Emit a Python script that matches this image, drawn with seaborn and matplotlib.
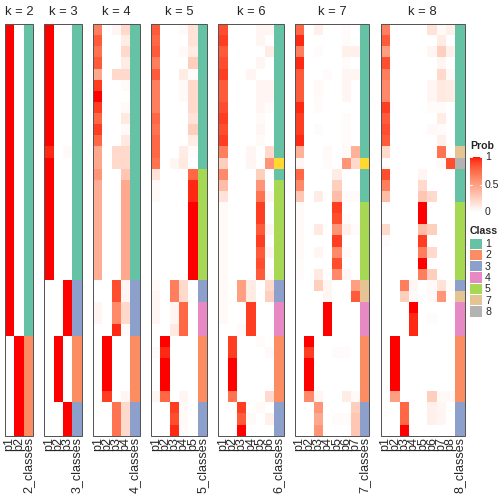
import numpy as np
import pandas as pd
import seaborn as sns
import matplotlib
matplotlib.use("Agg")
import matplotlib.pyplot as plt
from matplotlib.colors import ListedColormap, LinearSegmentedColormap
from matplotlib.patches import Rectangle

# ---------------- data ----------------
k_values = [2, 3, 4, 5, 6, 7, 8]

classes_k2 = [1] * 28 + [2] * 9
classes_k3 = [1] * 23 + [3] * 5 + [2] * 6 + [3] * 3
classes_k4 = [1] * 23 + [3] * 5 + [2] * 6 + [3] * 3
classes_k5 = [1] * 13 + [5] * 10 + [3] * 2 + [4] * 3 + [2] * 6 + [3] * 3
classes_k6 = [1] * 12 + [6] + [1] + [5] * 9 + [3] * 2 + [4] * 3 + [2] * 6 + [3] * 3
classes_k7 = [1] * 12 + [6] + [1] * 3 + [5] * 7 + [7] * 2 + [4] * 3 + [2] * 6 + [3] * 3
classes_k8 = [1] * 11 + [7] + [8] + [1] * 3 + [5] * 7 + [3] + [7] + [4] * 3 + [2] * 6 + [3] * 3

prob_k2 = [[1, 0]] * 28 + [[0, 1]] * 9

prob_k3 = ([[1, 0, 0]] * 11 + [[0.95, 0, 0.03]] + [[1, 0, 0]] * 11 +
           [[0, 0, 1]] * 5 + [[0, 1, 0]] * 6 + [[0, 0, 1]] * 3)

prob_k4 = [
    [0.65, 0, 0.05, 0.2], [0.8, 0, 0, 0.1], [0.7, 0, 0, 0.2], [0.8, 0, 0, 0.1],
    [0.45, 0, 0.2, 0.2], [0.9, 0, 0, 0.03], [1.0, 0, 0, 0], [0.9, 0, 0, 0.03],
    [0.75, 0, 0, 0.12], [0.9, 0, 0, 0.03], [0.75, 0, 0, 0.12], [0.45, 0, 0.2, 0.2],
    [0.45, 0, 0.2, 0.2], [0.55, 0, 0, 0.3],
    [0.42, 0, 0, 0.45], [0.42, 0, 0, 0.45], [0.42, 0, 0, 0.45], [0.42, 0, 0, 0.45],
    [0.42, 0, 0, 0.45], [0.42, 0, 0, 0.45], [0.42, 0, 0, 0.45], [0.42, 0, 0, 0.45],
    [0.42, 0, 0, 0.45],
    [0, 0, 0.85, 0.05], [0, 0, 0.85, 0.05], [0.05, 0, 0.6, 0.2], [0.05, 0, 0.6, 0.2],
    [0, 0, 0.95, 0.02],
    [0, 1, 0, 0], [0, 1, 0, 0], [0, 1, 0, 0], [0, 1, 0, 0], [0, 1, 0, 0],
    [0, 0.9, 0, 0.05],
    [0, 0, 0.7, 0.2], [0, 0, 0.7, 0.2], [0, 0, 0.7, 0.2],
]

prob_k5 = [
    [0.8, 0, 0, 0.03, 0.15], [0.75, 0, 0, 0, 0.15], [0.8, 0, 0, 0.03, 0.1],
    [0.65, 0, 0, 0, 0.25], [0.8, 0, 0, 0.1, 0.02], [0.65, 0, 0, 0.03, 0.2],
    [0.65, 0, 0, 0.03, 0.2], [0.65, 0, 0, 0, 0.2], [0.75, 0, 0, 0, 0.15],
    [0.7, 0, 0, 0, 0.25], [0.75, 0, 0, 0, 0.1], [0.75, 0, 0, 0.1, 0.02],
    [0.7, 0, 0.05, 0.12, 0],
    [0.15, 0, 0, 0, 0.75], [0.03, 0, 0, 0, 0.95], [0.03, 0, 0, 0, 0.95],
    [0, 0, 0, 0, 1], [0, 0, 0, 0, 1], [0, 0, 0, 0, 1], [0, 0, 0, 0, 1],
    [0, 0, 0, 0, 1], [0, 0, 0, 0, 1], [0, 0, 0, 0, 1],
    [0.03, 0, 0.65, 0.2, 0], [0.05, 0, 0.65, 0.2, 0],
    [0.05, 0, 0.05, 0.75, 0], [0.05, 0, 0.05, 0.75, 0], [0, 0, 0.12, 0.75, 0],
    [0, 1, 0, 0, 0], [0.02, 0.95, 0, 0, 0], [0, 1, 0, 0, 0], [0, 1, 0, 0, 0],
    [0, 1, 0, 0, 0], [0.05, 0.75, 0, 0.05, 0],
    [0, 0, 0.9, 0.03, 0], [0, 0, 0.85, 0.03, 0], [0, 0, 0.95, 0.02, 0],
]

prob_k6 = [
    [0.85, 0, 0, 0, 0.05, 0.05], [0.9, 0, 0, 0, 0.05, 0], [0.8, 0, 0, 0, 0, 0.1],
    [0.85, 0, 0, 0, 0.05, 0], [0.9, 0, 0, 0.05, 0, 0], [0.8, 0, 0, 0, 0.05, 0.05],
    [0.8, 0, 0, 0, 0.05, 0.05], [0.85, 0, 0, 0, 0.05, 0.02], [0.9, 0, 0, 0, 0.03, 0],
    [0.85, 0, 0, 0, 0.05, 0], [0.9, 0, 0, 0, 0.03, 0], [0.65, 0, 0, 0.05, 0, 0.2],
    [0.25, 0, 0, 0.05, 0, 0.55], [0.6, 0, 0, 0, 0.25, 0],
    [0.35, 0, 0, 0, 0.55, 0], [0.15, 0, 0, 0, 0.7, 0.05], [0.03, 0, 0, 0, 0.9, 0],
    [0.03, 0, 0, 0, 0.9, 0], [0.03, 0, 0, 0, 0.8, 0.05], [0.03, 0, 0, 0, 0.9, 0],
    [0.03, 0, 0, 0, 0.8, 0.05], [0.03, 0, 0, 0, 0.85, 0], [0.03, 0, 0, 0, 0.8, 0.03],
    [0.03, 0, 0.5, 0.1, 0, 0.2], [0.03, 0, 0.5, 0.1, 0, 0.25],
    [0.03, 0, 0, 0.9, 0, 0], [0.03, 0, 0, 0.9, 0, 0], [0, 0, 0.03, 0.9, 0, 0],
    [0, 0.9, 0, 0, 0.02, 0], [0, 0.9, 0, 0, 0, 0.03], [0, 1, 0, 0, 0, 0],
    [0, 1, 0, 0, 0, 0], [0, 1, 0, 0, 0, 0], [0, 0.7, 0, 0, 0, 0.2],
    [0, 0, 0.9, 0, 0.03, 0], [0, 0, 0.8, 0.03, 0, 0.08], [0, 0, 1.0, 0, 0, 0],
]

prob_k7 = [
    [0.75, 0, 0.08, 0, 0, 0.02, 0], [0.95, 0, 0, 0, 0, 0.02, 0],
    [0.65, 0, 0.02, 0, 0, 0.08, 0.08], [0.95, 0, 0, 0, 0, 0.02, 0],
    [0.8, 0, 0, 0.02, 0, 0.05, 0.05], [0.8, 0, 0.03, 0, 0, 0.05, 0],
    [0.8, 0, 0.03, 0, 0, 0.05, 0], [0.95, 0, 0.02, 0, 0, 0, 0],
    [0.9, 0, 0, 0, 0, 0.02, 0], [0.9, 0, 0.02, 0, 0, 0.02, 0],
    [0.95, 0, 0, 0, 0, 0.02, 0], [0.4, 0, 0, 0.03, 0, 0.03, 0.4],
    [0.05, 0, 0, 0.02, 0, 0.55, 0.2], [0.75, 0, 0, 0, 0.1, 0, 0],
    [0.6, 0, 0, 0, 0.25, 0, 0], [0.3, 0, 0.1, 0, 0.35, 0.02, 0.02],
    [0.03, 0, 0, 0, 0.9, 0, 0], [0.03, 0, 0, 0, 0.85, 0.02, 0],
    [0.03, 0, 0.12, 0, 0.55, 0.08, 0.02], [0.03, 0, 0, 0, 0.9, 0, 0],
    [0.03, 0, 0.05, 0, 0.6, 0.03, 0], [0.02, 0, 0, 0, 0.85, 0, 0],
    [0.02, 0, 0.12, 0, 0.6, 0.05, 0],
    [0, 0, 0.25, 0.05, 0, 0, 0.5], [0, 0, 0, 0.05, 0, 0, 0.8],
    [0, 0, 0, 1, 0, 0, 0], [0, 0, 0, 1, 0, 0, 0], [0, 0, 0, 1, 0, 0, 0],
    [0, 1, 0, 0, 0, 0, 0], [0, 0.9, 0, 0, 0.02, 0.02, 0], [0, 1, 0, 0, 0, 0, 0],
    [0, 1, 0, 0, 0, 0, 0], [0, 1, 0, 0, 0, 0, 0], [0, 0.6, 0.05, 0, 0, 0.1, 0.03],
    [0, 0, 0.55, 0, 0, 0, 0.25], [0, 0, 0.45, 0, 0.02, 0.02, 0.3],
    [0, 0, 0.55, 0, 0, 0, 0.3],
]

prob_k8 = [
    [0.65, 0, 0, 0, 0, 0.15, 0.03, 0.08], [0.8, 0, 0, 0, 0, 0, 0.1, 0],
    [0.5, 0, 0, 0, 0, 0.05, 0.25, 0.08], [0.85, 0, 0, 0, 0, 0, 0.05, 0],
    [0.65, 0, 0, 0, 0, 0, 0.2, 0.03], [0.6, 0, 0, 0, 0, 0.05, 0.12, 0.1],
    [0.6, 0, 0, 0, 0, 0.05, 0.12, 0.1], [0.9, 0, 0, 0, 0, 0.02, 0.02, 0],
    [0.8, 0, 0, 0, 0, 0, 0.1, 0], [0.85, 0, 0, 0, 0, 0.03, 0.02, 0],
    [0.8, 0, 0, 0, 0, 0, 0.08, 0], [0.2, 0, 0, 0, 0, 0, 0.7, 0],
    [0.02, 0, 0, 0, 0, 0, 0.03, 0.85], [0.85, 0, 0, 0, 0.05, 0, 0, 0],
    [0.65, 0, 0, 0, 0.2, 0, 0, 0], [0.35, 0, 0, 0, 0.3, 0.2, 0, 0],
    [0, 0, 0, 0, 1, 0, 0, 0], [0, 0, 0, 0, 1, 0, 0, 0],
    [0.2, 0, 0, 0, 0.35, 0.25, 0, 0], [0.02, 0, 0, 0, 0.9, 0, 0, 0],
    [0, 0, 0, 0, 0.65, 0.2, 0, 0], [0, 0, 0, 0, 1, 0, 0, 0],
    [0, 0, 0, 0, 0.65, 0.25, 0, 0],
    [0, 0, 0.65, 0.05, 0, 0.03, 0.15, 0.02], [0, 0, 0.25, 0.03, 0, 0.03, 0.55, 0],
    [0, 0, 0, 1, 0, 0, 0, 0], [0, 0, 0, 0.95, 0, 0.02, 0, 0],
    [0, 0, 0, 0.95, 0, 0, 0, 0],
    [0, 1, 0, 0, 0, 0, 0, 0], [0, 1, 0, 0, 0, 0, 0, 0], [0, 1, 0, 0, 0, 0, 0, 0],
    [0, 1, 0, 0, 0, 0, 0, 0], [0, 1, 0, 0, 0, 0, 0, 0],
    [0, 0.5, 0, 0, 0, 0.25, 0.03, 0.03],
    [0, 0, 0.75, 0, 0, 0.08, 0.05, 0], [0, 0, 0.75, 0, 0, 0.08, 0.05, 0],
    [0, 0, 1, 0, 0, 0, 0, 0],
]

probs = {2: prob_k2, 3: prob_k3, 4: prob_k4, 5: prob_k5, 6: prob_k6, 7: prob_k7, 8: prob_k8}
classes = {2: classes_k2, 3: classes_k3, 4: classes_k4, 5: classes_k5,
           6: classes_k6, 7: classes_k7, 8: classes_k8}

legend_classes = [1, 2, 3, 4, 5, 7, 8]
class_colors = ["#66C2A5", "#FC8D62", "#8DA0CB", "#E78AC3",
                "#A6D854", "#FFD92F", "#E5C494", "#B3B3B3"]
legend_ticks = [1, 0.5, 0]

# ---------------- colour ramp (white -> red, LAB interpolation) ----------------
_M = np.array([[0.4124, 0.3576, 0.1805], [0.2126, 0.7152, 0.0722], [0.0193, 0.1192, 0.9505]])
_W = np.array([0.95047, 1.0, 1.08883])


def _to_lab(rgb):
    c = np.asarray(rgb, float)
    lin = np.where(c <= 0.04045, c / 12.92, ((c + 0.055) / 1.055) ** 2.4)
    xyz = _M @ lin / _W
    f = np.where(xyz > 0.008856, np.cbrt(xyz), 7.787 * xyz + 16 / 116)
    return np.array([116 * f[1] - 16, 500 * (f[0] - f[1]), 200 * (f[1] - f[2])])


def _from_lab(lab):
    L, a, b = lab
    fy = (L + 16) / 116
    fx, fz = fy + a / 500, fy - b / 200
    f = np.array([fx, fy, fz])
    xyz = np.where(f ** 3 > 0.008856, f ** 3, (f - 16 / 116) / 7.787) * _W
    lin = np.linalg.inv(_M) @ xyz
    lin = np.clip(lin, 0, 1)
    return np.clip(np.where(lin <= 0.0031308, 12.92 * lin,
                            1.055 * lin ** (1 / 2.4) - 0.055), 0, 1)


lw_, lr_ = _to_lab([1, 1, 1]), _to_lab([1, 0, 0])
ramp = [_from_lab(lw_ + t * (lr_ - lw_)) for t in np.linspace(0, 1, 256)]
prob_cmap = ListedColormap(ramp)
class_cmap = ListedColormap(class_colors)

# ---------------- figure ----------------
sns.set_theme(style="white")
plt.rcParams["font.family"] = ["Liberation Sans", "DejaVu Sans"]

fig = plt.figure(figsize=(7, 7), dpi=72)
W = H = 504.0


def px_axes(x0, y0, x1, y1):
    return fig.add_axes([x0 / W, 1 - y1 / H, (x1 - x0) / W, (y1 - y0) / H])


top, bottom = 24.0, 435.7
colw, gap = 9.3, 11.5
x = 5.0
label_fs = 12.5

for k in k_values:
    mat = pd.DataFrame(np.array(probs[k], float), columns=[f"p{i+1}" for i in range(k)])
    ax = px_axes(x, top, x + k * colw, bottom)
    sns.heatmap(mat, cmap=prob_cmap, vmin=0, vmax=1, cbar=False, ax=ax,
                xticklabels=True, yticklabels=False)
    ax.set_xticklabels(mat.columns, rotation=90, fontsize=label_fs)
    ax.tick_params(axis="x", length=0, pad=1.5)

    cls = pd.DataFrame({f"{k}_classes": classes[k]})
    axc = px_axes(x + k * colw, top, x + (k + 1) * colw, bottom)
    sns.heatmap(cls, cmap=class_cmap, vmin=0.5, vmax=8.5, cbar=False, ax=axc,
                xticklabels=True, yticklabels=False)
    axc.set_xticklabels(cls.columns, rotation=90, fontsize=label_fs)
    axc.tick_params(axis="x", length=0, pad=1.5)

    x1 = x + (k + 1) * colw
    fig.patches.append(Rectangle((x / W, 1 - bottom / H), (x1 - x) / W, (bottom - top) / H,
                                 transform=fig.transFigure, fill=False,
                                 edgecolor="#555555", linewidth=1.0, zorder=10))
    fig.text((x + x1) / 2 / W, 1 - 12 / H, f"k = {k}", ha="center", va="center",
             fontsize=13)
    x = x1 + gap

# ---------------- legends ----------------
leg_x = 470.0
fig.text(leg_x / W, 1 - 146 / H, "Prob", fontsize=10.5, fontweight="bold",
         ha="left", va="center")
cb_top, cb_bot = 157.0, 212.0
axcb = px_axes(leg_x, cb_top, leg_x + 12, cb_bot)
axcb.imshow(np.linspace(1, 0, 256)[:, None], aspect="auto", cmap=prob_cmap,
            vmin=0, vmax=1, extent=[0, 1, 0, 1])
for t in legend_ticks:
    axcb.plot([0, 0.2], [t, t], color="white", lw=1)
    axcb.plot([0.8, 1], [t, t], color="white", lw=1)
    ty = cb_bot - t * (cb_bot - cb_top)
    fig.text((leg_x + 15) / W, 1 - ty / H, f"{t:g}", fontsize=10.5, ha="left", va="center")
axcb.set_xlim(0, 1)
axcb.set_ylim(0, 1)
axcb.axis("off")

fig.text(leg_x / W, 1 - 231 / H, "Class", fontsize=10.5, fontweight="bold",
         ha="left", va="center")
box_h = 11.3
for i, c in enumerate(legend_classes):
    y0 = 238.5 + i * box_h
    fig.patches.append(Rectangle((leg_x / W, 1 - (y0 + box_h - 1) / H), 11.5 / W, (box_h - 1) / H,
                                 transform=fig.transFigure, facecolor=class_colors[c - 1],
                                 edgecolor="none"))
    fig.text((leg_x + 15) / W, 1 - (y0 + box_h / 2) / H, str(c), fontsize=10.5,
             ha="left", va="center")

fig.savefig("out.png", dpi=72)
